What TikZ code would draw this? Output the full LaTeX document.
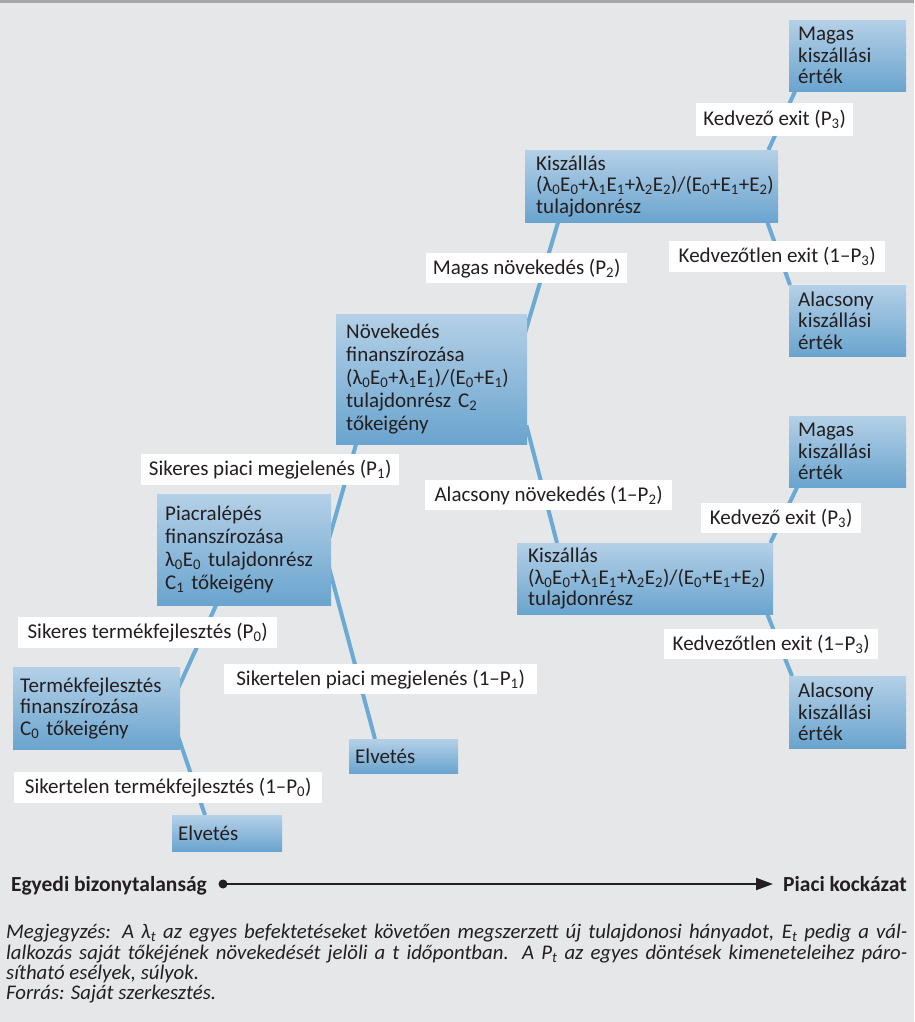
\documentclass[tikz,border=0pt]{standalone}
\usepackage{fontspec}
\setmainfont{Carlito}
\usetikzlibrary{calc,arrows.meta}
\pgfdeclarelayer{bglayer}
\pgfdeclarelayer{lines}
\pgfsetlayers{bglayer,lines,main}
\definecolor{bgcol}{RGB}{230,231,232}
\definecolor{barcol}{RGB}{166,167,169}
\definecolor{boxtop}{RGB}{180,208,231}
\definecolor{boxbot}{RGB}{106,164,206}
\definecolor{linecol}{RGB}{107,170,212}
\definecolor{txtcol}{RGB}{35,31,32}
\newcommand\sbs[1]{\textsubscript{#1}}
\newcommand\boxfont{\fontsize{21}{21.5}\selectfont}
\newcommand\wideboxfont{\fontsize{21}{23}\selectfont}
\newcommand\notefont{\fontsize{20.8}{20.3}\selectfont\itshape}
\newcommand\axisfont{\fontsize{21.5}{24}\selectfont\bfseries}
\hyphenpenalty=10000
\exhyphenpenalty=10000
\tikzset{
  stagebox/.style n args={4}{anchor=north west, minimum width=#1, text width=#1-2*#3, inner xsep=#3, inner ysep=0pt, minimum height=#2, top color=boxtop, bottom color=boxbot, draw=none, align=left, font=\boxfont, text=txtcol},
  widelines/.style={font=\wideboxfont},
  lbl/.style n args={2}{anchor=north west, fill=white, minimum width=#1, minimum height=#2, inner sep=0pt, font=\boxfont, text=txtcol},
  conn/.style={draw=linecol, line width=4pt},
  noteline/.style={anchor=base west, inner sep=0pt, font=\notefont, text=txtcol},
}
\begin{document}
\begin{tikzpicture}[x=1pt,y=-1pt]
\useasboundingbox (0,0) rectangle (914,1022);
\begin{pgfonlayer}{bglayer}
  \fill[bgcol] (0,0) rectangle (914,1022);
  \fill[barcol] (0,0) rectangle (914,3);
\end{pgfonlayer}

% stage boxes
\node[stagebox={117pt}{71pt}{9pt}{}] (M1) at (789,20) {Magas\\kiszállási\\érték};
\node[stagebox={253pt}{72pt}{11pt}{}] (K1) at (525,150) {Kiszállás\\(λ\sbs{0}E\sbs{0}+λ\sbs{1}E\sbs{1}+λ\sbs{2}E\sbs{2})/(E\sbs{0}+E\sbs{1}+E\sbs{2})\\tulajdonrész};
\node[stagebox={117pt}{71pt}{9pt}{}] (A1) at (789,285) {Alacsony\\kiszállási\\érték};
\node[stagebox={191pt}{130pt}{10pt}{}, widelines] (N) at (336,314) {Növekedés\\finanszírozása\\(λ\sbs{0}E\sbs{0}+λ\sbs{1}E\sbs{1})/(E\sbs{0}+E\sbs{1})\\tulajdonrész C\sbs{2}\\tőkeigény};
\node[stagebox={117pt}{71pt}{9pt}{}] (M2) at (789,416) {Magas\\kiszállási\\érték};
\node[stagebox={256pt}{71pt}{11pt}{}] (K2) at (517,543) {Kiszállás\\(λ\sbs{0}E\sbs{0}+λ\sbs{1}E\sbs{1}+λ\sbs{2}E\sbs{2})/(E\sbs{0}+E\sbs{1}+E\sbs{2})\\tulajdonrész};
\node[stagebox={117pt}{72pt}{9pt}{}] (A2) at (789,676) {Alacsony\\kiszállási\\érték};
\node[stagebox={174pt}{111pt}{8pt}{}, widelines] (P) at (157,494) {Piacralépés\\finanszírozása\\λ\sbs{0}E\sbs{0} tulajdonrész\\C\sbs{1} tőkeigény};
\node[stagebox={167pt}{82pt}{7pt}{}] (T) at (13,667) {Termékfejlesztés\\finanszírozása\\C\sbs{0} tőkeigény};
\node[stagebox={109pt}{34pt}{6pt}{}] (E1) at (349,739) {Elvetés};
\node[stagebox={110pt}{36pt}{6pt}{}] (E2) at (172,815) {Elvetés};

% labels
\node[lbl={157pt}{33pt}] (LK1u) at (696,103) {Kedvező exit (P\sbs{3})};
\node[lbl={216pt}{31pt}] (LK1d) at (669,241) {Kedvezőtlen exit (1–P\sbs{3})};
\node[lbl={201pt}{30pt}] (LNu) at (426,253) {Magas növekedés (P\sbs{2})};
\node[lbl={247pt}{30pt}] (LNd) at (425,480) {Alacsony növekedés (1–P\sbs{2})};
\node[lbl={160pt}{30pt}] (LK2u) at (701,503) {Kedvező exit (P\sbs{3})};
\node[lbl={214pt}{30pt}] (LK2d) at (664,629) {Kedvezőtlen exit (1–P\sbs{3})};
\node[lbl={258pt}{31pt}] (LPu) at (141,454) {Sikeres piaci megjelenés (P\sbs{1})};
\node[lbl={313pt}{30pt}] (LPd) at (224,664) {Sikertelen piaci megjelenés (1–P\sbs{1})};
\node[lbl={259pt}{31pt}] (LTu) at (18,617) {Sikeres termékfejlesztés (P\sbs{0})};
\node[lbl={308pt}{31pt}] (LTd) at (14,772) {Sikertelen termékfejlesztés (1–P\sbs{0})};

% connectors
\begin{pgfonlayer}{lines}
  \draw[conn] ($(M1.south west)+(6,0)$) -- ($(K1.north east)+(-10,0)$);
  \draw[conn] ($(K1.south east)+(-11,0)$) -- ($(A1.north west)+(1,0)$);
  \draw[conn] ($(K1.south west)+(33,0)$) -- ($(N.north east)+(-3,21)$);
  \draw[conn] ($(N.south east)+(-1,-19)$) -- ($(K2.north west)+(40,0)$);
  \draw[conn] ($(M2.south west)+(8,0)$) -- ($(K2.north east)+(-3,0)$);
  \draw[conn] ($(K2.south east)+(-6,0)$) -- ($(A2.north west)+(3,0)$);
  \draw[conn] ($(N.south west)+(20,0)$) -- ($(P.north east)+(-3,47)$);
  \draw[conn] ($(P.north east)+(-2,75)$) -- ($(E1.north west)+(26,0)$);
  \draw[conn] ($(P.south west)+(59,0)$) -- ($(T.north east)+(-4,25)$);
  \draw[conn] ($(T.south east)+(-2,-12)$) -- ($(E2.north west)+(33,0)$);
\end{pgfonlayer}

% axis
\node[anchor=base east, inner sep=0pt, font=\axisfont, text=txtcol] (axL) at (207,891) {Egyedi bizonytalanság};
\node[anchor=base west, inner sep=0pt, font=\axisfont, text=txtcol] (axR) at (783,891) {Piaci kockázat};
\node[circle, fill=txtcol, inner sep=0pt, minimum size=9pt] (dot) at (223,884) {};
\coordinate (tip) at (773,884);
\draw[txtcol, line width=2pt, -{Triangle[length=17pt,width=12pt]}] (dot.center) -- (tip);

% note
\node[noteline] (note1) at (6,938) {\makebox[901pt][s]{Megjegyzés: A λ\sbs{t} az egyes befektetéseket követően megszerzett új tulajdonosi hányadot, E\sbs{t} pedig a vál-}};
\node[noteline] (note2) at (6,959) {\makebox[901pt][s]{lalkozás saját tőkéjének növekedését jelöli a t időpontban. A P\sbs{t} az egyes döntések kimeneteleihez páro-}};
\node[noteline] (note3) at (6,979) {sítható esélyek, súlyok.};
\node[noteline] (note4) at (6,999) {Forrás: Saját szerkesztés.};
\end{tikzpicture}
\end{document}
